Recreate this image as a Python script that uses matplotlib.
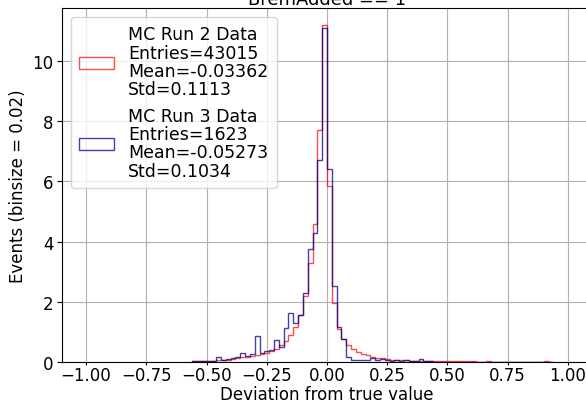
import numpy as np
import matplotlib
matplotlib.use("Agg")
import matplotlib.pyplot as plt

# bin edges, binsize 0.02
bin_lo = -0.56
bin_hi = 0.94
binsize = 0.02

# normalised bin contents
run2_vals = [0.02, 0.02, 0.03, 0.03, 0.04, 0.05, 0.07, 0.08, 0.10, 0.12,
             0.15, 0.18, 0.20, 0.24, 0.27, 0.30, 0.35, 0.42, 0.55, 0.70,
             0.90, 1.15, 1.55, 2.20, 3.30, 4.60, 7.70, 11.20,
             5.85, 1.97, 1.10, 0.75, 0.55, 0.42, 0.33, 0.27, 0.22, 0.17,
             0.14, 0.12, 0.10, 0.08, 0.07, 0.06, 0.05, 0.04, 0.04, 0.04,
             0.03, 0.03, 0.02, 0.02, 0.02, 0.02, 0.02, 0.02, 0.02, 0.02,
             0.02, 0.00, 0.01, 0.03, 0.00, 0.00, 0.00, 0.00, 0.00, 0.00,
             0.00, 0.00, 0.00, 0.00, 0.00, 0.04, 0.00]
run3_vals = [0.02, 0.02, 0.02, 0.02, 0.03, 0.15, 0.08, 0.10, 0.12, 0.18,
             0.30, 0.20, 0.25, 0.85, 0.30, 0.35, 0.40, 0.72, 0.50, 1.13,
             1.63, 1.30, 1.57, 2.30, 3.75, 4.30, 6.70, 11.10,
             6.40, 2.53, 1.17, 0.77, 0.17, 0.08, 0.07, 0.08, 0.06, 0.12,
             0.05, 0.10, 0.05, 0.04, 0.06, 0.04, 0.08, 0.03, 0.02, 0.10,
             0.02, 0.02, 0.01, 0.00, 0.00, 0.00, 0.00, 0.00, 0.00, 0.00,
             0.00, 0.00, 0.00, 0.00, 0.00, 0.00, 0.00, 0.00, 0.00, 0.00,
             0.00, 0.00, 0.00, 0.00, 0.00, 0.00, 0.00]

run2_label = "MC Run 2 Data\nEntries=43015\nMean=-0.03362\nStd=0.1113"
run3_label = "MC Run 3 Data\nEntries=1623\nMean=-0.05273\nStd=0.1034"

edges = np.linspace(bin_lo, bin_hi, len(run2_vals) + 1)
centers = 0.5 * (edges[:-1] + edges[1:])

plt.rcParams["font.size"] = 12

fig = plt.figure(figsize=(5.86, 4.06), dpi=100)
ax = fig.add_axes([62 / 586, 43 / 406, 530 / 586, 354 / 406])

ax.hist(centers, bins=edges, weights=run2_vals, histtype="step",
        color="red", alpha=0.7, linewidth=1.0, label=run2_label)
ax.hist(centers, bins=edges, weights=run3_vals, histtype="step",
        color="darkblue", alpha=0.75, linewidth=1.0, label=run3_label)

ax.set_xlim(-1.1, 1.1)
ax.set_ylim(0, 11.76)
ax.set_xticks(np.arange(-1.0, 1.01, 0.25))
ax.set_yticks(np.arange(0, 11, 2))
ax.tick_params(axis="x", length=2.5, pad=0.5)
ax.tick_params(axis="y", pad=2.5)
ax.grid(True)
ax.set_xlabel("Deviation from true value", labelpad=0.5)
ax.set_ylabel("Events (binsize = 0.02)")
ax.set_title("BremAdded == 1", fontsize=13, pad=1.5)
leg = ax.legend(loc="upper left", fontsize=12.5, borderpad=0.5)
for t in leg.get_texts():
    t.set_linespacing(1.02)

fig.savefig("out.png", dpi=100)
